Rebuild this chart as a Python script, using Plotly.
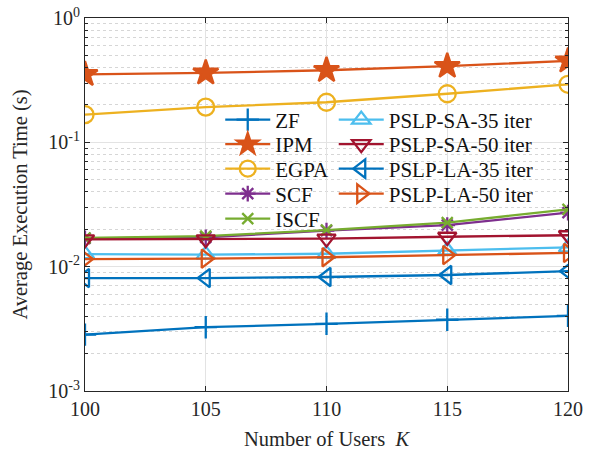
import plotly.graph_objects as go

users = [100, 105, 110, 115, 120]

zf = [0.00284, 0.00326, 0.00347, 0.00374, 0.00402]
ipm = [0.352, 0.362, 0.380, 0.410, 0.452]
egpa = [0.167, 0.192, 0.210, 0.246, 0.293]
scf = [0.0169, 0.0172, 0.0195, 0.0216, 0.0272]
iscf = [0.0170, 0.0176, 0.0197, 0.0226, 0.0289]
sa35 = [0.0126, 0.0125, 0.0127, 0.0135, 0.0143]
sa50 = [0.0166, 0.0166, 0.0168, 0.0174, 0.0179]
la35 = [0.0081, 0.0081, 0.00826, 0.00857, 0.0092]
la50 = [0.0115, 0.0116, 0.0119, 0.0124, 0.0129]

y_tick_vals = [0.001, 0.01, 0.1, 1]
y_tick_text = ["10<sup>-3</sup>", "10<sup>-2</sup>", "10<sup>-1</sup>", "10<sup>0</sup>"]
x_tick_vals = [100, 105, 110, 115, 120]

# name, data, colour, symbol, size, legend column, legend row
series = [
    ("ZF", zf, "#0072BD", "cross-thin-open", 16, 0, 0),
    ("IPM", ipm, "#D95319", "star", 19, 0, 1),
    ("EGPA", egpa, "#EDB120", "circle-open", 17, 0, 2),
    ("SCF", scf, "#7E2F8E", "asterisk-open", 13, 0, 3),
    ("ISCF", iscf, "#77AC30", "x-thin-open", 11, 0, 4),
    ("PSLP-SA-35 iter", sa35, "#4DBEEE", "triangle-up-open", 16, 1, 0),
    ("PSLP-SA-50 iter", sa50, "#A2142F", "triangle-down-open", 16, 1, 1),
    ("PSLP-LA-35 iter", la35, "#0072BD", "triangle-left-open", 16, 1, 2),
    ("PSLP-LA-50 iter", la50, "#D95319", "triangle-right-open", 16, 1, 3),
]

font = "Liberation Serif"
W, H = 590, 450
ML, MR, MT, MB = 85, 22, 18, 59
PH = H - MT - MB

row_px = [120, 144.5, 169, 194, 219]
col_x = [0.28, 0.515]

fig = go.Figure()
legends = {}
for i, (name, vals, color, sym, size, col, row) in enumerate(series):
    key = "legend" if i == 0 else f"legend{i + 1}"
    fig.add_trace(go.Scatter(
        x=users, y=vals, name=name, mode="lines+markers",
        line=dict(color=color, width=2.3),
        marker=dict(symbol=sym, size=size, color=color,
                    line=dict(color=color, width=2.3)),
        legend=key,
    ))
    legends[key] = dict(
        x=col_x[col], y=1 - (row_px[row] - MT) / PH,
        xanchor="left", yanchor="middle",
        bgcolor="rgba(0,0,0,0)", borderwidth=0,
        font=dict(family=font, size=21, color="#111111"),
        itemwidth=45,
    )

axis_common = dict(
    showline=True, linecolor="#262626", linewidth=1, mirror="ticks",
    ticks="inside", ticklen=5, tickcolor="#262626",
    gridcolor="#e3e3e3", gridwidth=1, zeroline=False, automargin=False,
    tickfont=dict(family=font, size=20, color="#262626"),
)

fig.update_layout(
    width=W, height=H,
    margin=dict(l=ML, r=MR, t=MT, b=MB),
    plot_bgcolor="white", paper_bgcolor="white",
    showlegend=True,
    xaxis=dict(
        range=[100, 120], tickvals=x_tick_vals,
        title=dict(text="Number of Users  <i>K</i>", font=dict(family=font, size=20.5, color="#262626")),
        **axis_common,
    ),
    yaxis=dict(
        type="log", range=[-3, 0], tickvals=y_tick_vals, ticktext=y_tick_text,
        title=dict(text="Average Execution Time (s)", font=dict(family=font, size=20.5, color="#262626")),
        minor=dict(showgrid=True, griddash="dot", gridcolor="#d6d6d6", ticks="inside",
                   ticklen=3, tickcolor="#262626", dtick="D1"),
        **axis_common,
    ),
    **legends,
)

fig.write_html("out.html")
